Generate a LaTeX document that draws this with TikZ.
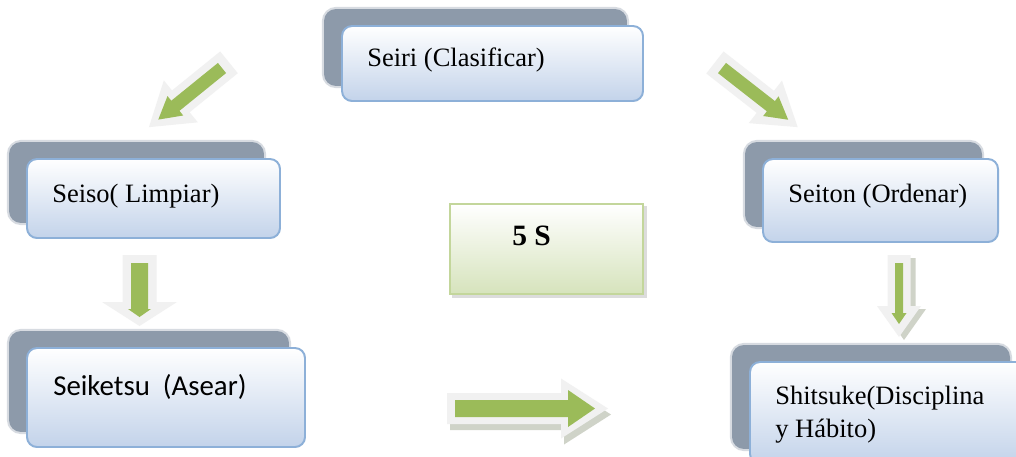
\documentclass[tikz,border=0pt]{standalone}
\usepackage{fontspec}
\setmainfont{Liberation Serif}
\newfontfamily\calibrifont{Carlito}
\usetikzlibrary{fit,calc}

\definecolor{backgray}{RGB}{141,154,170}
\definecolor{boxbottom}{RGB}{195,211,234}
\definecolor{boxedge}{RGB}{141,176,216}
\definecolor{leaf}{RGB}{155,187,89}
\definecolor{rim}{RGB}{241,241,241}
\definecolor{ashadow}{RGB}{150,158,135}
\definecolor{coregreen}{RGB}{214,227,188}
\definecolor{coreedge}{RGB}{195,214,155}

\pgfdeclarelayer{paper}
\pgfdeclarelayer{under}
\pgfsetlayers{paper,under,main}

\tikzset{
  frontbox/.style={draw=boxedge, line width=1.4pt, rounded corners=0.25cm,
    top color=white, bottom color=boxbottom, inner sep=0pt},
  corebox/.style={draw=coreedge, line width=1.4pt, top color=white,
    bottom color=coregreen, inner sep=0pt},
  serif18/.style={anchor=base west, inner sep=0pt, text=black,
    font=\fontsize{18.85}{22.8}\selectfont},
  arrowrim/.style={fill=rim},
  arrowbody/.style={fill=leaf},
  ghost/.style={arrowrim/.style={fill=ashadow, opacity=.45},
    arrowbody/.style={fill=none}},
  % block arrow along local x: inner length, shaft half, head half, head length,
  % rim tail margin, rim shaft half, rim head half, rim tip extension
  pics/blockarrow/.style n args={8}{code={
    \fill[arrowrim] (-#5,-#6) -- (#1-#4-7,-#6) -- (#1-#4-7,-#7) -- (#1+#8,0)
      -- (#1-#4-7,#7) -- (#1-#4-7,#6) -- (-#5,#6) -- cycle;
    \fill[arrowbody] (0,-#2) -- (#1-#4,-#2) -- (#1-#4,-#3) -- (#1,0)
      -- (#1-#4,#3) -- (#1-#4,#2) -- (0,#2) -- cycle;
  }},
}

\newcommand\backplate[1]{%
  \draw[backgray, opacity=.35, line width=3pt, rounded corners=0.3cm]
    ([shift={(-17,-16)}]#1.north west) rectangle ([shift={(-17,-16)}]#1.south east);
  \fill[backgray, rounded corners=0.3cm]
    ([shift={(-17,-16)}]#1.north west) rectangle ([shift={(-17,-16)}]#1.south east);
}

\begin{document}
\begin{tikzpicture}[x=0.025cm, y=-0.025cm]
  \useasboundingbox (0,0) rectangle (1016,456);
  \begin{pgfonlayer}{paper}
    \fill[white] (0,0) rectangle (1016,456);
  \end{pgfonlayer}

  % front boxes of the five steps
  \node[frontbox, fit={(342,26)(643,101)}] (seiri) {};
  \node[frontbox, fit={(27,159)(280,238)}] (seiso) {};
  \node[frontbox, fit={(763,159)(998,242)}] (seiton) {};
  \node[frontbox, fit={(27,348)(305,447)}] (seiketsu) {};
  \node[frontbox, fit={(750,362)(1026,464)}] (shitsuke) {};

  % central box
  \node[corebox, fit={(450,204)(643,294)}] (core) {};

  % plates behind the boxes
  \begin{pgfonlayer}{under}
    \backplate{seiri}
    \backplate{seiso}
    \backplate{seiton}
    \backplate{seiketsu}
    \backplate{shitsuke}
    \fill[gray!45, opacity=.6] ([shift={(3,3)}]core.north west) rectangle ([shift={(3,3)}]core.south east);
  \end{pgfonlayer}

  % labels
  \node[serif18] (tseiri) at (367,66) {Seiri (Clasificar)};
  \node[serif18] (tseiso) at (52,202) {Seiso( Limpiar)};
  \node[serif18] (tseiton) at (788,202) {Seiton (Ordenar)};
  \node[anchor=base west, inner sep=0pt, font=\calibrifont\fontsize{20.5}{24}\selectfont]
    (tseiketsu) at (53,395) {Seiketsu\ \ (Asear)};
  \node[serif18, align=left] (tshitsuke) at (775,437) {Shitsuke(Disciplina\\y Hábito)};
  \node[anchor=base west, inner sep=0pt, font=\bfseries\fontsize{21}{25}\selectfont]
    (tcore) at (512,245) {5 S};

  % block arrows
  \coordinate (aleft) at (222,68);
  \coordinate (aright) at (722,68);
  \coordinate (adownl) at (139.5,263);
  \coordinate (adownr) at (899,263);
  \coordinate (aflow) at (455,408.5);

  \pic[rotate=219] at (aleft) {blockarrow={82}{6.5}{12.5}{22}{9}{14}{27}{12}};
  \pic[rotate=-38] at (aright) {blockarrow={84}{6.5}{12.5}{22}{9}{14}{27}{12}};
  \pic[rotate=-90] at (adownl) {blockarrow={54}{8.5}{11.5}{8}{8}{17}{37.5}{9}};
  \pic[rotate=-90, ghost] at ($(adownr)+(5,3)$) {blockarrow={61}{4}{7.5}{11}{8}{11.5}{22}{13}};
  \pic[rotate=-90] at (adownr) {blockarrow={61}{4}{7.5}{11}{8}{11.5}{22}{13}};
  \pic[ghost] at ($(aflow)+(3,6)$) {blockarrow={140}{8.5}{18.5}{27}{8}{15.5}{30}{13}};
  \pic at (aflow) {blockarrow={140}{8.5}{18.5}{27}{8}{15.5}{30}{13}};
\end{tikzpicture}
\end{document}
